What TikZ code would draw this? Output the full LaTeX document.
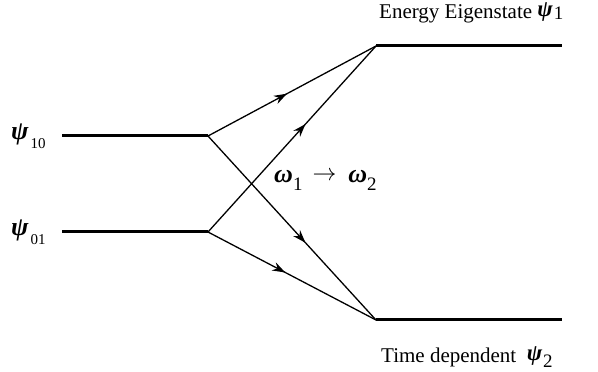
\documentclass[tikz,border=0pt]{standalone}
\usepackage{fontspec}
\setmainfont{Liberation Serif}
\usetikzlibrary{decorations.markings,arrows.meta}
\newcommand\lowsub[3][-8pt]{\raisebox{#1}{\fontsize{#2}{#2}\selectfont #3}}
\newcommand\gr[2][26]{{\fontsize{#1}{#1}\selectfont\bfseries\itshape #2}}
\tikzset{
  level/.style={line width=3pt},
  trans/.style={line width=1.3pt, postaction={decorate},
    decoration={markings, mark=at position #1 with {\arrow{Stealth[length=13pt,width=9pt]}}}},
  lbl/.style={inner sep=0pt, anchor=base west, font=\fontsize{21}{21}\selectfont}
}
\begin{document}
\begin{tikzpicture}[x=1pt,y=1pt]
\useasboundingbox (0,0) rectangle (598,372);
\coordinate (a1) at (62,236);
\coordinate (a2) at (208,236);
\coordinate (b1) at (62,140);
\coordinate (b2) at (208,140);
\coordinate (c1) at (376,326);
\coordinate (c2) at (562,326);
\coordinate (d1) at (376,52);
\coordinate (d2) at (562,52);
\draw[level] (a1) -- (a2);
\draw[level] (b1) -- (b2);
\draw[level] (c1) -- (c2);
\draw[level] (d1) -- (d2);
\draw[trans=0.47] (a2) -- (c1);
\draw[trans=0.58] (b2) -- (c1);
\draw[trans=0.58] (a2) -- (d1);
\draw[trans=0.46] (b2) -- (d1);
\node[lbl] (p10) at (11,232) {\gr{ψ}\kern2pt\lowsub[-9pt]{15}{10}};
\node[lbl] (p01) at (11,136) {\gr{ψ}\kern2pt\lowsub[-9pt]{15}{01}};
\node[lbl] (top) at (379,353) {Energy Eigenstate \raisebox{2pt}{\gr[23]{ψ}}\kern1pt\lowsub[-1pt]{19}{1}};
\node[lbl] (bot) at (381,9) {Time dependent\ \ \raisebox{2pt}{\gr[23]{ψ}}\kern1pt\lowsub[-5pt]{19}{2}};
\node[lbl] (om) at (274,189) {\gr{ω}\lowsub[-8pt]{19}{1}\hspace{10pt}\raisebox{2pt}{\scalebox{1.15}{$\rightarrow$}}\hspace{12pt}\gr{ω}\lowsub[-8pt]{19}{2}};
\end{tikzpicture}
\end{document}
